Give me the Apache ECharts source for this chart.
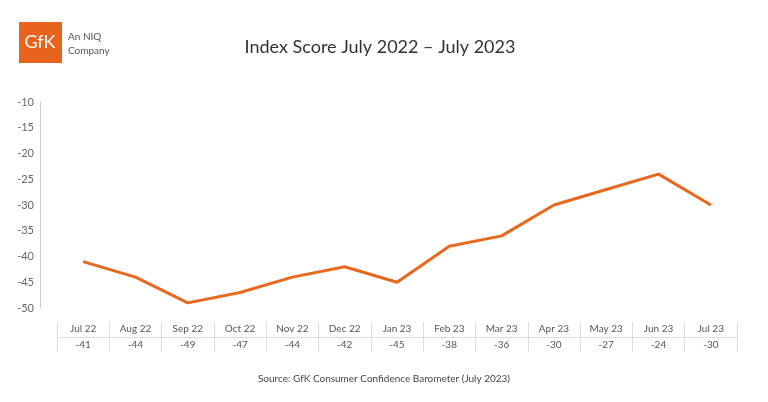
<!DOCTYPE html><html><head><meta charset="utf-8"><script src="https://cdn.jsdelivr.net/npm/echarts@6/dist/echarts.min.js"></script></head><body style="margin:0"><div id="c" style="width:768px;height:402px"></div><script>
const categories=['Jul 22','Aug 22','Sep 22','Oct 22','Nov 22','Dec 22','Jan 23','Feb 23','Mar 23','Apr 23','May 23','Jun 23','Jul 23'];
const values=[-41,-44,-49,-47,-44,-42,-45,-38,-36,-30,-27,-24,-30];
const yTicks={min:-50,max:-10,interval:5};
const F='Lato, sans-serif';
const c=echarts.init(document.getElementById('c'));
c.setOption({animation:false,
title:{text:'Index Score July 2022 – July 2023',left:375,textAlign:'center',top:33,textStyle:{fontFamily:F,fontSize:18,fontWeight:'normal',color:'#333'}},
graphic:[{type:'rect',shape:{x:19,y:22,width:43,height:41},style:{fill:'#e8641e'}},
{type:'text',style:{x:40,y:42,text:'GfK',fill:'#fff',font:'18px '+F,align:'center',verticalAlign:'middle'}},
{type:'text',style:{x:68,y:30,text:'An NIQ\nCompany',fill:'#555',font:'10px '+F,lineHeight:14}},
{type:'text',style:{x:384,y:379,text:'Source: GfK Consumer Confidence Barometer (July 2023)',fill:'#444',font:'10px '+F,align:'center',verticalAlign:'middle'}}],
grid:[{left:57,right:31,top:102,bottom:94},{left:57,right:31,top:322,height:30}],
xAxis:[{gridIndex:0,type:'category',data:categories,boundaryGap:true,show:false},
{gridIndex:1,type:'category',data:categories,position:'top',axisLine:{show:false},axisTick:{show:false},splitLine:{show:true,interval:0,lineStyle:{color:'#ddd'}},axisLabel:{inside:true,interval:0,margin:2,color:'#555',fontFamily:F,fontSize:10}},
{gridIndex:1,type:'category',data:values.map(String),position:'bottom',axisLine:{show:false},axisTick:{show:false},axisLabel:{inside:true,interval:0,margin:2,color:'#555',fontFamily:F,fontSize:10}}],
yAxis:[{gridIndex:0,type:'value',min:yTicks.min,max:yTicks.max,interval:yTicks.interval,offset:17,axisLine:{show:true,lineStyle:{color:'#ccc'}},axisTick:{show:false},splitLine:{show:false},axisLabel:{color:'#666',fontFamily:F,fontSize:11,margin:6}},
{gridIndex:1,type:'value',min:0,max:2,interval:1,show:true,axisLine:{show:false},axisTick:{show:false},axisLabel:{show:false},splitLine:{show:true,lineStyle:{color:['transparent','#ddd','transparent']}}}],
series:[{type:'line',data:values,xAxisIndex:0,yAxisIndex:0,symbol:'none',lineStyle:{color:'#e8681e',width:3},itemStyle:{color:'#e8681e'}},
{type:'line',data:[],xAxisIndex:1,yAxisIndex:1}]
});
</script></body></html>
